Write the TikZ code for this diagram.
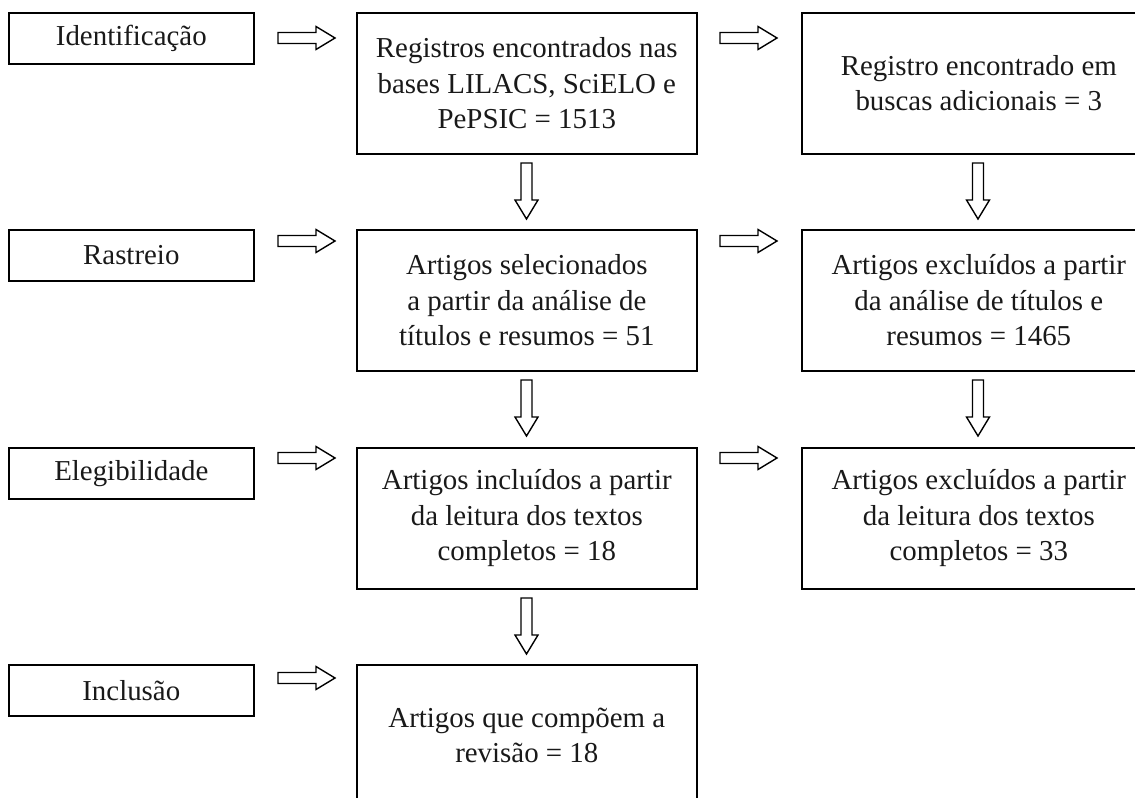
\documentclass[tikz,border=0pt]{standalone}
\usepackage{fontspec}
\setmainfont{Liberation Serif}
\begin{document}
\begin{tikzpicture}[x=1bp,y=-1bp,
  box/.style={draw, line width=1.6bp, inner sep=0pt, align=center,
    font=\fontsize{29}{35.5}\selectfont, anchor=north west, text=black!90},
  lbox/.style={box, minimum width=245bp, minimum height=51bp},
  mbox/.style={box, minimum width=340bp, minimum height=141bp},
  rbox/.style={box, minimum width=354bp, minimum height=141bp},
  blk/.style={draw, line width=1.4bp, line join=miter},
  rarr/.pic={\path[blk] (0,-5.5) -- (38,-5.5) -- (38,-11.5) -- (57,0) -- (38,11.5) -- (38,5.5) -- (0,5.5) -- cycle;},
  darr/.pic={\path[blk] (-5.5,0) -- (-5.5,37) -- (-11.5,37) -- (0,56) -- (11.5,37) -- (5.5,37) -- (5.5,0) -- cycle;}
]
\useasboundingbox (0,0) rectangle (1135,798);
\clip (0,0) rectangle (1135,798);
% left column
\node[lbox] (l1) at (8,12) {Identificação};
\node[lbox] (l2) at (8,229) {Rastreio};
\node[lbox] (l3) at (8,447) {Elegibilidade};
\node[lbox] (l4) at (8,664) {Inclusão};
% middle column
\node[mbox] (m1) at (356,12) {Registros encontrados nas\\bases LILACS, SciELO e\\PePSIC = 1513};
\node[mbox] (m2) at (356,229) {Artigos selecionados\\a partir da análise de\\títulos e resumos = 51};
\node[mbox] (m3) at (356,447) {Artigos incluídos a partir\\da leitura dos textos\\completos = 18};
\node[mbox] (m4) at (356,664) {Artigos que compõem a\\revisão = 18};
% right column
\node[rbox] (r1) at (801,12) {Registro encontrado em\\buscas adicionais = 3};
\node[rbox] (r2) at (801,229) {Artigos excluídos a partir\\da análise de títulos e\\resumos = 1465};
\node[rbox] (r3) at (801,447) {Artigos excluídos a partir\\da leitura dos textos\\completos = 33};
% horizontal arrows
\pic at (278,38) {rarr};
\pic at (720,38) {rarr};
\pic at (278,241) {rarr};
\pic at (720,241) {rarr};
\pic at (278,458) {rarr};
\pic at (720,458) {rarr};
\pic at (278,678) {rarr};
% vertical arrows
\pic at (526.5,163) {darr};
\pic at (978,163) {darr};
\pic at (526.5,380) {darr};
\pic at (978,380) {darr};
\pic at (526.5,598) {darr};
\end{tikzpicture}
\end{document}
